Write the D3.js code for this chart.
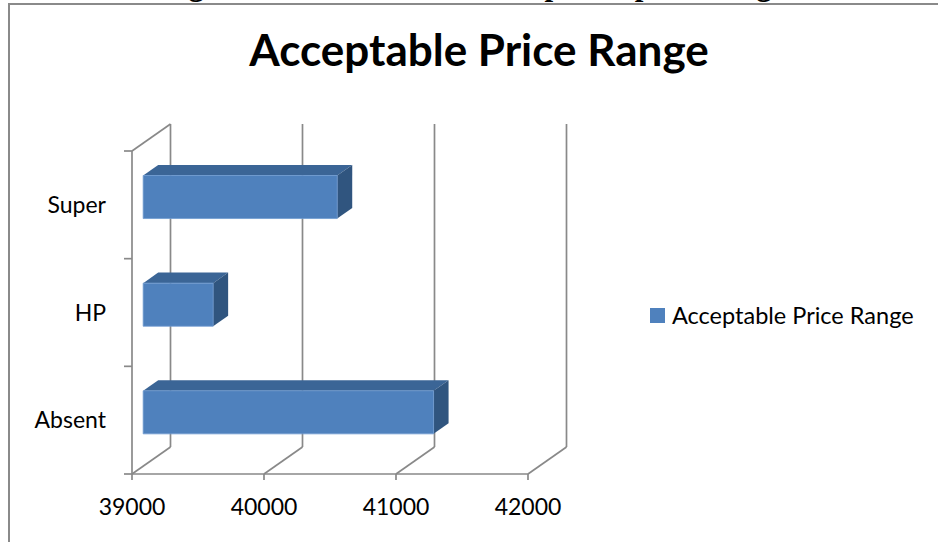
<!DOCTYPE html>
<html>
<head>
<meta charset="utf-8">
<script src="https://cdn.jsdelivr.net/npm/d3@7"></script>
<style>
  body { margin: 0; background: #fff; }
  text { font-family: Lato, "Open Sans", sans-serif; fill: #000; }
</style>
</head>
<body>
<svg id="chart" width="938" height="542"></svg>
<script>
var categories = ["Absent", "HP", "Super"];
var prices = [41200, 39530, 40470];
var tickValues = [39000, 40000, 41000, 42000];
var seriesName = "Acceptable Price Range";
var chartTitle = "Acceptable Price Range";
var caption = "Figure 4.5: Chart of the Acceptable price range";

var svg = d3.select("#chart");

var plot = {left: 132, right: 528, top: 151, bottom: 474},
    depth = {x: 38.5, y: -27},
    barZ = [0.29, 0.68],
    gridColor = "#898989";

// front plane point pushed back by z (0 = front wall, 1 = back wall)
function proj(x, y, z) { return [x + depth.x * z, y + depth.y * z]; }

var scaleX = d3.scaleLinear().domain([39000, 42000]).range([plot.left, plot.right]);
var scaleY = d3.scaleBand()
    .domain(categories)
    .range([plot.bottom, plot.top])
    .paddingInner(0.6)
    .paddingOuter(0.3);

var data = categories.map(function(c, i) { return {cat: c, value: prices[i]}; });

// caption of the document, mostly cut off at the top
svg.append("text")
    .attr("x", 161)
    .attr("y", -5.5)
    .style("font-family", "'Liberation Serif', serif")
    .style("font-weight", "bold")
    .style("font-size", "31px")
    .text(caption);

// chart border
svg.append("rect")
    .attr("x", 9).attr("y", 4)
    .attr("width", 960).attr("height", 560)
    .attr("fill", "none")
    .attr("stroke", "#8a8a8a")
    .attr("stroke-width", 2);

svg.append("text")
    .attr("x", 479)
    .attr("y", 66)
    .attr("text-anchor", "middle")
    .style("font-weight", "bold")
    .style("font-size", "44px")
    .text(chartTitle);

var grid = svg.append("g")
    .attr("stroke", gridColor)
    .attr("stroke-width", 1.7)
    .attr("fill", "none");

function seg(p1, p2) {
  grid.append("line")
      .attr("x1", p1[0]).attr("y1", p1[1])
      .attr("x2", p2[0]).attr("y2", p2[1]);
}

// back wall gridlines and floor lines
tickValues.forEach(function(t) {
  var x = scaleX(t);
  seg(proj(x, plot.top, 1), proj(x, plot.bottom, 1));
  seg(proj(x, plot.bottom, 0), proj(x, plot.bottom, 1));
});
// side wall
seg(proj(plot.left, plot.top, 0), proj(plot.left, plot.bottom, 0));
seg(proj(plot.left, plot.top, 0), proj(plot.left, plot.top, 1));
// front axis line
seg([plot.left, plot.bottom], [plot.right, plot.bottom]);

// x ticks + labels
tickValues.forEach(function(t) {
  seg([scaleX(t), plot.bottom], [scaleX(t), plot.bottom + 6]);
});
svg.append("g").selectAll("text")
    .data(tickValues)
  .enter().append("text")
    .attr("x", function(d) { return scaleX(d); })
    .attr("y", 515)
    .attr("text-anchor", "middle")
    .style("font-size", "23px")
    .text(function(d) { return d; });

// y ticks at band boundaries + labels
var step = scaleY.step();
d3.range(categories.length + 1).forEach(function(i) {
  var y = plot.bottom - i * step;
  seg([plot.left - 8, y], [plot.left, y]);
});
svg.append("g").selectAll("text")
    .data(categories)
  .enter().append("text")
    .attr("x", 106)
    .attr("y", function(d) { return scaleY(d) + scaleY.bandwidth() / 2 + 8; })
    .attr("text-anchor", "end")
    .style("font-size", "23px")
    .text(function(d) { return d; });

// 3d bars
var bars = svg.append("g").selectAll("g")
    .data(data)
  .enter().append("g");

function poly(pts) { return "M" + pts.map(function(p) { return p.join(","); }).join("L") + "Z"; }

bars.append("path")
    .attr("fill", "#3b6596")
    .attr("d", function(d) {
      var x0 = scaleX(39000), x1 = scaleX(d.value), y0 = scaleY(d.cat);
      return poly([proj(x0, y0, barZ[0]), proj(x0, y0, barZ[1]), proj(x1, y0, barZ[1]), proj(x1, y0, barZ[0])]);
    });

bars.append("path")
    .attr("fill", "#30557f")
    .attr("d", function(d) {
      var x1 = scaleX(d.value), y0 = scaleY(d.cat), y1 = y0 + scaleY.bandwidth();
      return poly([proj(x1, y0, barZ[0]), proj(x1, y0, barZ[1]), proj(x1, y1, barZ[1]), proj(x1, y1, barZ[0])]);
    });

bars.append("path")
    .attr("fill", "#4f81bd")
    .attr("stroke", "#6f9bd0")
    .attr("stroke-width", 0.8)
    .attr("d", function(d) {
      var x0 = scaleX(39000), x1 = scaleX(d.value), y0 = scaleY(d.cat), y1 = y0 + scaleY.bandwidth();
      return poly([proj(x0, y0, barZ[0]), proj(x1, y0, barZ[0]), proj(x1, y1, barZ[0]), proj(x0, y1, barZ[0])]);
    });

// legend
var legend = svg.append("g").attr("transform", "translate(650,308)");
legend.append("rect")
    .attr("width", 15).attr("height", 15)
    .attr("fill", "#4f81bd");
legend.append("text")
    .attr("x", 22)
    .attr("y", 15.5)
    .style("font-size", "23.5px")
    .text(seriesName);
</script>
</body>
</html>
